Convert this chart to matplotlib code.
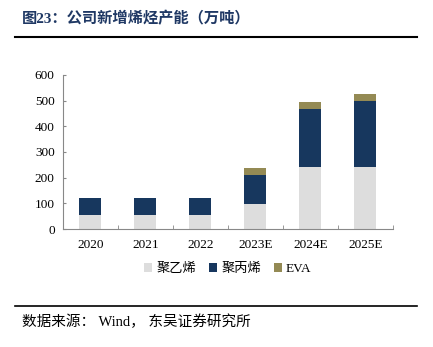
import matplotlib
matplotlib.use("Agg")
import matplotlib.pyplot as plt
import numpy as np
from matplotlib.lines import Line2D

plt.rcParams['font.family'] = ['Liberation Serif', 'Noto Sans CJK SC', 'DejaVu Sans']

categories = ["2020", "2021", "2022", "2023E", "2024E", "2025E"]
pe = [55, 55, 55, 97, 240, 240]
pp = [65, 65, 65, 112, 227, 257]
eva = [0, 0, 0, 28, 28, 30]
series_names = ["聚乙烯", "聚丙烯", "EVA"]
colors = ["#DDDDDD", "#17375E", "#948A54"]
yticks = [0, 100, 200, 300, 400, 500, 600]

fig = plt.figure(figsize=(4.33, 3.47), dpi=100)
ax = fig.add_axes([0.1455, 0.34, 0.762, 0.444])

x = np.arange(len(categories))
w = 0.4
b1 = np.array(pe)
b2 = b1 + np.array(pp)
ax.bar(x, pe, w, color=colors[0], label=series_names[0], zorder=2)
ax.bar(x, pp, w, bottom=b1, color=colors[1], label=series_names[1], zorder=2)
ax.bar(x, eva, w, bottom=b2, color=colors[2], label=series_names[2], zorder=2)

ax.set_xlim(-0.5, len(categories) - 0.5)
ax.set_ylim(0, 600)
ax.set_yticks(yticks)
ax.set_yticklabels([str(v) for v in yticks], fontsize=9.5)
ax.set_xticks(x)
ax.set_xticklabels(categories, fontsize=9.5)
ax.tick_params(axis='x', length=0, pad=7)
ax.set_xticks(np.arange(-0.5, len(categories) + 0.5, 1), minor=True)
ax.tick_params(axis='x', which='minor', direction='in', length=3, color='#888888')
ax.tick_params(axis='y', direction='in', length=2.5, color='#888888', pad=6)
for s in ['top', 'right']:
    ax.spines[s].set_visible(False)
for s in ['left', 'bottom']:
    ax.spines[s].set_color('#888888')
    ax.spines[s].set_linewidth(0.8)

leg = ax.legend(loc='upper center', bbox_to_anchor=(0.5, -0.145), ncol=3, frameon=False,
                handlelength=0.6, handleheight=0.6, handletextpad=0.3,
                columnspacing=1.0,
                prop={'family': ['Liberation Serif', 'Noto Sans CJK SC'], 'size': 9.5})

fig.text(0.051, 0.948, "图23：公司新增烯烃产能（万吨）", fontsize=11, fontweight='bold',
         color='#1F3864', va='center', ha='left',
         family=['Liberation Serif', 'Noto Sans CJK SC'])
fig.add_artist(Line2D([15 / 433, 417 / 433], [1 - 37 / 347, 1 - 37 / 347], color='black', lw=1.5))
fig.add_artist(Line2D([15 / 433, 417 / 433], [1 - 306 / 347, 1 - 306 / 347], color='black', lw=1.2))
fig.text(0.051, 1 - 322 / 347, "数据来源： Wind， 东吴证券研究所", fontsize=10.5, color='black',
         va='center', ha='left', family=['Liberation Serif', 'Noto Sans CJK SC'])

fig.savefig("out.png", dpi=100, facecolor='white')
